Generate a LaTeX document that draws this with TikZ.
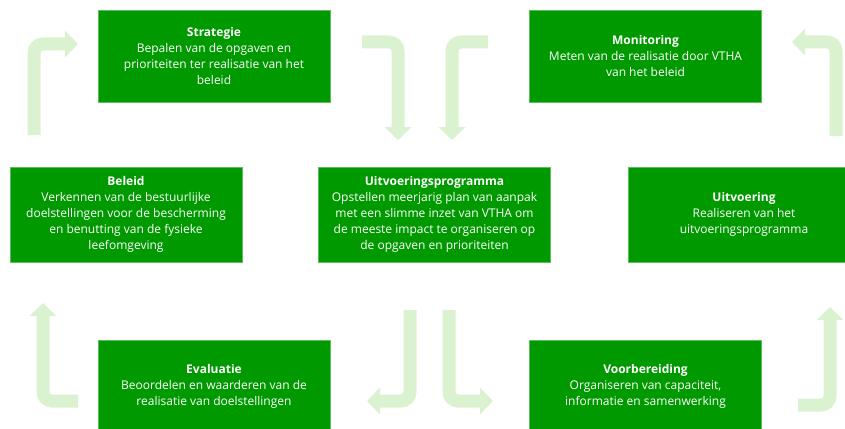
\documentclass[tikz,border=0pt]{standalone}
\usepackage{fontspec}
\setmainfont{Open Sans}
\usetikzlibrary{positioning}
\usetikzlibrary{arrows.meta}
\definecolor{fasegroen}{HTML}{009A00}
\definecolor{randgroen}{HTML}{5DBE5D}
\definecolor{pijlgroen}{HTML}{DAF2D0}
\tikzset{fase/.style={draw=randgroen,line width=0.5pt,fill=fasegroen,text=white,
           minimum width=232pt,minimum height=92pt,inner sep=0pt,align=center,
           font=\fontsize{12}{16}\selectfont},
         pijl/.style={draw=pijlgroen,line width=13pt,rounded corners=9pt,
           -{Triangle[width=26pt,length=13pt]}},
         }

\begin{document}
\begin{tikzpicture}[x=1pt,y=-1pt,
	middenrij/.style={minimum height=95pt}]
\useasboundingbox (0,0) rectangle (845,428);
% fasen
\node[fase] (strategie) at (214,56) {\textbf{Strategie}\\Bepalen van de opgaven en\\prioriteiten ter realisatie van het\\beleid};
\node[fase,right=199pt of strategie] (monitoring) {\textbf{Monitoring}\\Meten van de realisatie door VTHA\\van het beleid};
\node[fase,middenrij] (beleid) at (126,214.5) {\textbf{Beleid}\\Verkennen van de bestuurlijke\\doelstellingen voor de bescherming\\en benutting van de fysieke\\leefomgeving};
\node[fase,middenrij,right=76pt of beleid] (programma) {\textbf{Uitvoeringsprogramma}\\Opstellen meerjarig plan van aanpak\\met een slimme inzet van VTHA om\\de meeste impact te organiseren op\\de opgaven en prioriteiten};
\node[fase,middenrij,right=77pt of programma] (uitvoering) {\textbf{Uitvoering}\\Realiseren van het\\uitvoeringsprogramma};
\node[fase] (evaluatie) at (214,386) {\textbf{Evaluatie}\\Beoordelen en waarderen van de\\realisatie van doelstellingen};
\node[fase,right=199pt of evaluatie] (voorbereiding) {\textbf{Voorbereiding}\\Organiseren van capaciteit,\\informatie en samenwerking};
% pijlen
\coordinate (beleid-uit) at (34,135);
\coordinate (strategie-in) at (78,44);
\coordinate (strategie-uit) at (362,42);
\coordinate (programma-in1) at (398,140);
\coordinate (monitoring-uit) at (488,42);
\coordinate (programma-in2) at (452,140);
\coordinate (uitvoering-uit) at (836,136);
\coordinate (monitoring-in) at (792,42);
\coordinate (voorbereiding-uit) at (798,405);
\coordinate (uitvoering-in) at (830,307);
\coordinate (programma-uit1) at (410,310);
\coordinate (evaluatie-in) at (367,401);
\coordinate (programma-uit2) at (449,310);
\coordinate (voorbereiding-in) at (493,401);
\coordinate (evaluatie-uit) at (78,401);
\coordinate (beleid-in) at (43,303);
\draw[pijl] (beleid-uit) |- (strategie-in);
\draw[pijl] (strategie-uit) -| (programma-in1);
\draw[pijl] (monitoring-uit) -| (programma-in2);
\draw[pijl] (uitvoering-uit) |- (monitoring-in);
\draw[pijl] (voorbereiding-uit) -| (uitvoering-in);
\draw[pijl] (programma-uit1) |- (evaluatie-in);
\draw[pijl] (programma-uit2) |- (voorbereiding-in);
\draw[pijl] (evaluatie-uit) -| (beleid-in);
\end{tikzpicture}
\end{document}
